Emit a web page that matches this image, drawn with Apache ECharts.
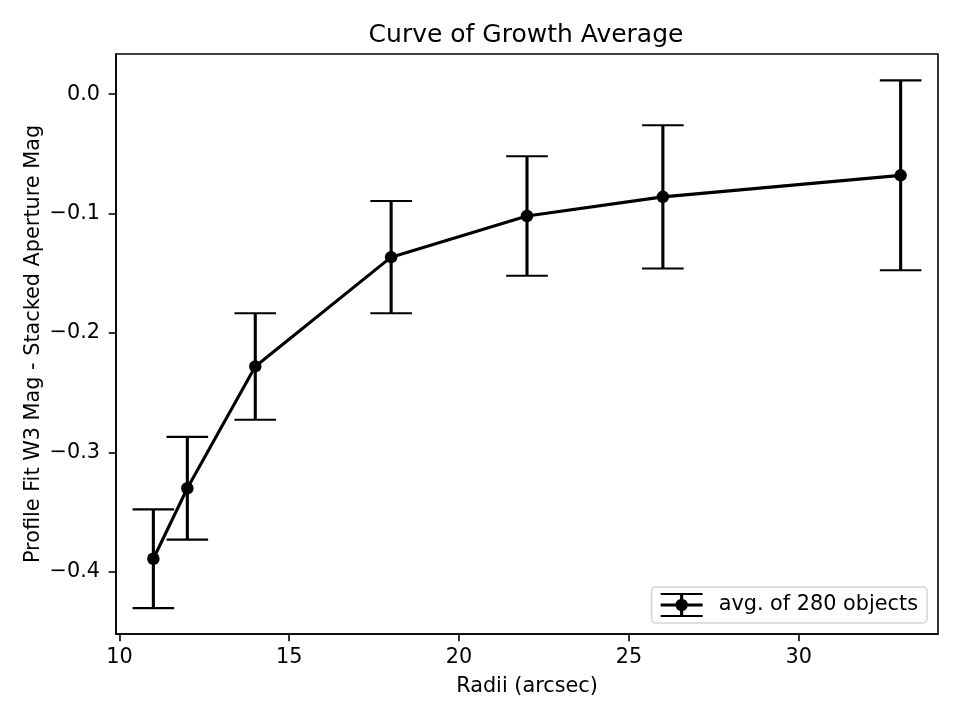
<!DOCTYPE html>
<html>
<head>
<meta charset="utf-8">
<script src="https://cdn.jsdelivr.net/npm/echarts@6/dist/echarts.min.js"></script>
<style>html,body{margin:0;padding:0;background:#fff;}#c{width:960px;height:720px;}</style>
</head>
<body>
<div id="c"></div>
<script>
// Data
const radii = [11, 12, 14, 18, 22, 26, 33];
const meanDiff = [-0.389, -0.330, -0.228, -0.1365, -0.102, -0.086, -0.068];
const errDiff = [0.0413, 0.043, 0.0446, 0.047, 0.050, 0.060, 0.0795];
const xTicks = [10, 15, 20, 25, 30];
const yTicks = [-0.4, -0.3, -0.2, -0.1, 0.0];
const seriesName = 'avg. of 280 objects';

const FONT = 'DejaVu Sans';
const lineData = radii.map((r, i) => [r, meanDiff[i]]);
const errData = radii.map((r, i) => [r, meanDiff[i] - errDiff[i], meanDiff[i] + errDiff[i]]);

const fmtY = v => {
  const a = Math.abs(v).toFixed(1);
  return (v < -1e-9 ? '\u2212' : '') + a;
};

const iconPath = 'path://' +
  'M0 0H42V2.1H0Z' +
  'M0 10.45H42V13.55H0Z' +
  'M0 21.9H42V24H0Z' +
  'M19.45 1H22.55V23H19.45Z' +
  'M14.75 12A6.25 6.25 0 1 1 27.25 12A6.25 6.25 0 1 1 14.75 12Z';

const chart = echarts.init(document.getElementById('c'), null, {renderer: 'canvas'});
chart.setOption({
  animation: false,
  backgroundColor: '#ffffff',
  textStyle: {fontFamily: FONT},
  title: {
    text: 'Curve of Growth Average',
    left: 526,
    top: 23,
    padding: 0,
    textAlign: 'center',
    textStyle: {fontFamily: FONT, fontSize: 25, fontWeight: 'normal', color: '#000'}
  },
  grid: {
    left: 116, right: 22, top: 54, bottom: 86,
    containLabel: false,
    outerBoundsMode: 'none',
    show: true,
    borderColor: '#000',
    borderWidth: 1.6,
    backgroundColor: 'transparent'
  },
  legend: {
    data: [{name: seriesName, icon: iconPath}],
    right: 33,
    bottom: 97,
    orient: 'vertical',
    itemWidth: 42,
    itemHeight: 24,
    padding: [6, 9, 6, 9],
    backgroundColor: 'rgba(255,255,255,0.8)',
    borderColor: '#d3d3d3',
    borderWidth: 1.5,
    borderRadius: 4,
    itemStyle: {color: '#000', borderWidth: 0},
    textStyle: {fontFamily: FONT, fontSize: 20.8, color: '#000', padding: [3, 0, 0, 11]},
    selectedMode: false
  },
  xAxis: {
    type: 'value',
    min: 9.9,
    max: 34.1,
    name: 'Radii (arcsec)',
    nameLocation: 'middle',
    nameGap: 42,
    nameMoveOverlap: false,
    nameTextStyle: {fontFamily: FONT, fontSize: 20.8, color: '#000'},
    axisLine: {show: true, onZero: false, lineStyle: {color: '#000', width: 1.6}},
    axisTick: {show: true, inside: false, length: 7.3, customValues: xTicks, lineStyle: {color: '#000', width: 1.6}},
    axisLabel: {show: true, margin: 13, customValues: xTicks, fontFamily: FONT, fontSize: 20.8, color: '#000',
      formatter: v => String(Math.round(v))},
    splitLine: {show: false}
  },
  yAxis: {
    type: 'value',
    min: -0.452,
    max: 0.0336,
    name: 'Profile Fit W3 Mag - Stacked Aperture Mag',
    nameLocation: 'middle',
    nameGap: 72,
    nameMoveOverlap: false,
    nameTextStyle: {fontFamily: FONT, fontSize: 20.8, color: '#000'},
    axisLine: {show: true, onZero: false, lineStyle: {color: '#000', width: 1.6}},
    axisTick: {show: true, inside: false, length: 7.3, customValues: yTicks, lineStyle: {color: '#000', width: 1.6}},
    axisLabel: {show: true, margin: 16, customValues: yTicks, fontFamily: FONT, fontSize: 20.8, color: '#000',
      formatter: fmtY},
    splitLine: {show: false}
  },
  series: [
    {
      name: 'errorbars',
      type: 'custom',
      data: errData,
      encode: {x: 0, y: [1, 2]},
      z: 2,
      renderItem: function (params, api) {
        const x = api.value(0);
        const lo = api.coord([x, api.value(1)]);
        const hi = api.coord([x, api.value(2)]);
        const hw = 20.8;
        return {
          type: 'group',
          children: [
            {type: 'line', shape: {x1: lo[0], y1: lo[1], x2: hi[0], y2: hi[1]},
              style: {stroke: '#000', lineWidth: 3.1}},
            {type: 'line', shape: {x1: lo[0] - hw, y1: lo[1], x2: lo[0] + hw, y2: lo[1]},
              style: {stroke: '#000', lineWidth: 2.1}},
            {type: 'line', shape: {x1: hi[0] - hw, y1: hi[1], x2: hi[0] + hw, y2: hi[1]},
              style: {stroke: '#000', lineWidth: 2.1}}
          ]
        };
      }
    },
    {
      name: seriesName,
      type: 'line',
      data: lineData,
      z: 3,
      symbol: 'circle',
      symbolSize: 12.5,
      showAllSymbol: true,
      lineStyle: {color: '#000', width: 3.1},
      itemStyle: {color: '#000', borderWidth: 0},
      emphasis: {disabled: true}
    }
  ]
});
</script>
</body>
</html>
